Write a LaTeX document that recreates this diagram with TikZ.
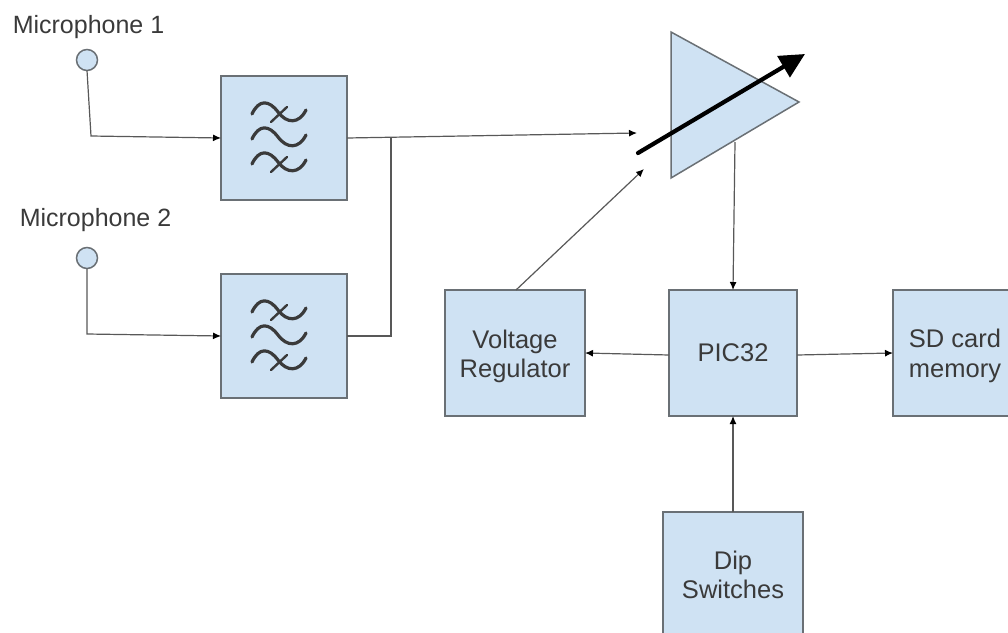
\documentclass[tikz,border=0pt]{standalone}
\usepackage{fontspec}
\setmainfont{Liberation Sans}
\usetikzlibrary{arrows.meta}
\definecolor{boxfill}{HTML}{CFE2F3}
\definecolor{boxline}{HTML}{6A7075}
\definecolor{inkc}{HTML}{3A3A3A}
\tikzset{
  block/.style={draw=boxline,fill=boxfill,line width=1.5pt,outer sep=0pt,anchor=north west,inner sep=0pt},
  blocktext/.style={inner sep=0pt,align=center,text=inkc,font=\fontsize{25.5}{29.5}\selectfont},
  mic/.style={draw=boxline,fill=boxfill,circle,line width=1.5pt,outer sep=0pt,minimum size=21pt,inner sep=0pt},
  caption/.style={text=inkc,inner sep=0pt,font=\fontsize{25}{29.5}\selectfont},
  wire/.style={draw=inkc!85,line width=1.2pt},
  arrowwire/.style={wire,-{Latex[length=8pt,width=7pt,black]}},
  wave/.style={draw=inkc,line width=3.2pt,line cap=round},
  amp/.style={draw=boxline,fill=boxfill,line width=1.5pt,line join=miter}
}
\begin{document}
\begin{tikzpicture}[x=1pt,y=-1pt]
\useasboundingbox (0,0) rectangle (1008,632);
\clip (0,0) rectangle (1008,632);
% filters
\node[block,minimum width=126pt,minimum height=124pt] (filterA) at (221,76) {};
\node[block,minimum width=126pt,minimum height=124pt] (filterB) at (221,274) {};
\foreach \yc in {138,336}{
  \begin{scope}[shift={(279,\yc)}]
    \foreach \dy in {-25,0,25}{
      \draw[wave] (-27,\dy+1) .. controls (-20,\dy-14) and (-10,\dy-13) .. (-1,\dy-1)
        .. controls (8,\dy+11) and (20,\dy+11) .. (27,\dy-3);
    }
    \draw[wave,line width=2.4pt] (-8,-16) -- (8,-31);
    \draw[wave,line width=2.4pt] (-8,34) -- (8,19);
  \end{scope}
}
% mics
\node[mic] (micA) at (87,60) {};
\node[mic] (micB) at (87,258) {};
\node[caption] (capA) at (88.5,27) {Microphone 1};
\node[caption] (capB) at (95.5,220) {Microphone 2};
% boxes
\node[block,minimum width=140pt,minimum height=126pt] (vreg) at (445,290) {};
\node[block,minimum width=128pt,minimum height=126pt] (pic) at (669,290) {};
\node[block,minimum width=124pt,minimum height=126pt] (sd) at (893,290) {};
\node[block,minimum width=140pt,minimum height=126pt] (dip) at (663,512) {};
\node[blocktext,yshift=-3.5pt] (vregT) at (vreg.center) {Voltage\\Regulator};
\node[blocktext] (picT) at (pic.center) {PIC32};
\node[blocktext,yshift=-3pt] (sdT) at (sd.center) {SD card\\memory};
\node[blocktext] (dipT) at (dip.center) {Dip\\Switches};
% amplifier
\draw[amp] (671,32) -- (799,102) -- (671,178) -- cycle;
\coordinate (ampOut) at (735,142);
\coordinate (ampInA) at (637,133);
\coordinate (ampInB) at (644,169);
\coordinate (gainS) at (638,153);
\coordinate (gainE) at (805,54);
\coordinate (mA) at (91,136);
\coordinate (mB) at (87,334);
\coordinate (jA) at (391,138);
\coordinate (jB) at (391,336);
% wires
\draw[arrowwire] (micA.south) -- (mA) -- (filterA.west);
\draw[arrowwire] (micB.south) -- (mB) -- (filterB.west);
\draw[arrowwire] (filterA.east) -- (ampInA);
\draw[wire] (filterB.east) -- (jB) -- (jA);
\draw[arrowwire] ([xshift=1pt]vreg.north) -- (ampInB);
\draw[arrowwire] (ampOut) -- (pic.north);
\draw[arrowwire] ([yshift=-2pt]pic.west) -- (vreg.east);
\draw[arrowwire] ([yshift=-2pt]pic.east) -- (sd.west);
\draw[arrowwire] (dip.north) -- (pic.south);
% gain arrow
\draw[line width=4.2pt,black,line cap=round,-{Triangle[length=25pt,width=24pt]}] (gainS) -- (gainE);
\end{tikzpicture}
\end{document}
